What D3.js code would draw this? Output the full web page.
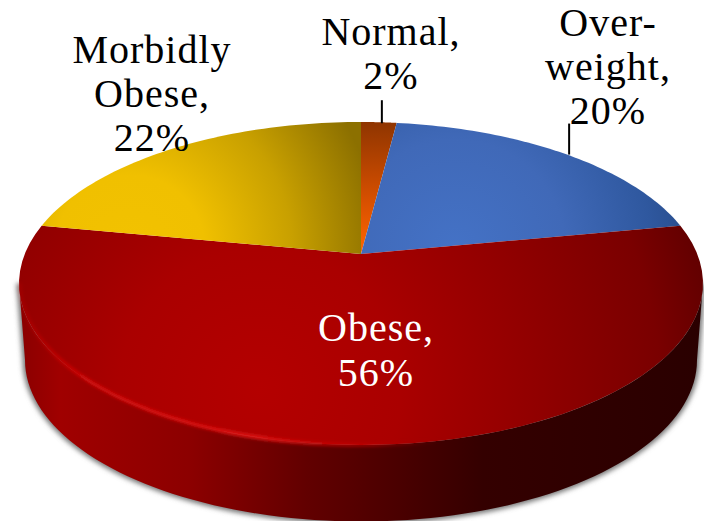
<!DOCTYPE html>
<html>
<head>
<meta charset="utf-8">
<script src="https://cdn.jsdelivr.net/npm/d3@7"></script>
<style>
body { margin: 0; background: #fff; }
text { font-family: "Liberation Serif", serif; font-size: 40px; letter-spacing: 1px; text-anchor: middle; }
</style>
</head>
<body>
<script>
//chart values
const categories = ["Normal", "Overweight", "Obese", "Morbidly Obese"];
const percents = [2, 20, 56, 22];
const labelLines = [["Normal,", "2%"], ["Over-", "weight,", "20%"], ["Obese,", "56%"], ["Morbidly", "Obese,", "22%"]];
const sliceFills = ["url(#orangeFill)", "url(#blueFill)", "url(#redFill)", "url(#yellowFill)"];

//where each label sits (x, first baseline, line step), null leader = no tick
const labelPos = [[391, 45, 44], [608, 36, 44], [376, 341, 45], [152, 63, 44]];
const leaderPos = [[3, 23], [5, 31], null, null];

const width = 704;
const height = 521;

//the tilted disc is a projective map of a unit circle
const hub = [361, 254];
const farY = 122;
const nearY = 445;
const rimRx = 342;
const k = (nearY + farY - 2 * hub[1]) / (nearY - farY);
const yGain = nearY * (1 - k) - hub[1];
const xGain = rimRx * Math.sqrt(1 - k * k);

function project(angle) {
    const u = Math.sin(angle);
    const v = -Math.cos(angle);
    const w = 1 - k * v;
    return [hub[0] + xGain * u / w, (hub[1] + yGain * v) / w];
}

//ellipses used for the side wall
const rimCy = (farY + nearY) / 2;
const rimRy = (nearY - farY) / 2;
const baseCy = 360;
const baseRx = 336;

const line = d3.line();

const svg = d3.select("body").append("svg")
    .attr("width", width)
    .attr("height", height)
    .style("display", "block");

const defs = svg.append("defs");

function addRadial(id, cx, cy, r, stops) {
    const g = defs.append("radialGradient")
        .attr("id", id)
        .attr("gradientUnits", "userSpaceOnUse")
        .attr("cx", cx).attr("cy", cy).attr("r", r);
    stops.forEach(s => g.append("stop").attr("offset", s[0]).attr("stop-color", s[1]));
}

function addLinear(id, x1, y1, x2, y2, stops) {
    const g = defs.append("linearGradient")
        .attr("id", id)
        .attr("gradientUnits", "userSpaceOnUse")
        .attr("x1", x1).attr("y1", y1).attr("x2", x2).attr("y2", y2);
    stops.forEach(s => {
        g.append("stop").attr("offset", s[0]).attr("stop-color", s[1])
            .attr("stop-opacity", s[2] === undefined ? 1 : s[2]);
    });
}

addRadial("redFill", 260, 390, 470, [[0, "#b40000"], [0.3, "#aa0000"], [0.6, "#900000"], [0.85, "#7a0000"], [1, "#5e0000"]]);
addRadial("blueFill", 455, 250, 245, [[0, "#4472c6"], [0.45, "#4069b8"], [0.8, "#2f589f"], [1, "#264a88"]]);
addRadial("yellowFill", 130, 250, 250, [[0, "#f2c200"], [0.3, "#f0c000"], [0.65, "#c8a000"], [1, "#8c7000"]]);
addLinear("orangeFill", 0, 122, 0, 254, [[0, "#8f3500"], [0.6, "#d85000"], [1, "#ff6600"]]);
addLinear("wallFill", 19, 0, 702, 0, [[0, "#8a0000"], [0.06, "#a00000"], [0.25, "#8c0000"], [0.42, "#620000"], [0.68, "#340000"], [1, "#2a0000"]]);
addLinear("rimGlow", 19, 0, 702, 0, [[0, "#c80000", 0.2], [0.1, "#d00808", 1], [0.35, "#dc1414", 1], [0.52, "#c00000", 0.5], [0.62, "#900000", 0]]);

defs.append("filter").attr("id", "soft").attr("x", "-5%").attr("y", "-5%").attr("width", "110%").attr("height", "110%")
    .append("feGaussianBlur").attr("stdDeviation", 2.5);
defs.append("filter").attr("id", "softLine").attr("x", "-5%").attr("y", "-5%").attr("width", "110%").attr("height", "110%")
    .append("feGaussianBlur").attr("stdDeviation", 1.4);

//lower half of an ellipse, left to right
function lowerArc(cy, rx, ry) {
    return d3.range(0, 181, 2).map(d => {
        const t = Math.PI - d * Math.PI / 180;
        return [hub[0] + rx * Math.cos(t), cy + ry * Math.sin(t)];
    });
}

const rimArc = lowerArc(rimCy, rimRx, rimRy);
const baseArc = lowerArc(baseCy, baseRx, rimRy);
const wallShape = rimArc.concat(baseArc.slice().reverse());

//soft grey shadow under the disc
svg.append("path")
    .attr("d", line(wallShape) + "Z")
    .attr("fill", "#777")
    .attr("stroke", "#777")
    .attr("stroke-width", 5)
    .attr("filter", "url(#soft)");

//side wall
svg.append("path")
    .attr("d", line(wallShape) + "Z")
    .attr("fill", "url(#wallFill)");

//top face slices
const pie = d3.pie().sort(null).value(d => d);
const arcs = pie(percents);

svg.append("g").selectAll("path")
    .data(arcs)
    .join("path")
    .attr("class", (d, i) => "slice " + categories[i].replace(/\s/g, ""))
    .attr("d", d => {
        const steps = d3.range(0, 61).map(i => project(d.startAngle + (d.endAngle - d.startAngle) * i / 60));
        return line([hub].concat(steps)) + "Z";
    })
    .attr("fill", (d, i) => sliceFills[i]);

//bevel highlight along the front edge
svg.append("path")
    .attr("d", line(lowerArc(rimCy, rimRx - 1, rimRy)))
    .attr("fill", "none")
    .attr("stroke", "url(#rimGlow)")
    .attr("stroke-width", 4)
    .attr("filter", "url(#softLine)");

//labels
svg.append("g").selectAll("text")
    .data(labelLines)
    .join("text")
    .attr("fill", (d, i) => categories[i] === "Obese" ? "#fff" : "#000")
    .each(function (lines, i) {
        const p = labelPos[i];
        d3.select(this).selectAll("tspan")
            .data(lines)
            .join("tspan")
            .attr("x", p[0])
            .attr("y", (d, j) => p[1] + j * p[2])
            .text(d => d);
    });

//leader ticks from the slice middle up to the label
arcs.forEach((d, i) => {
    const l = leaderPos[i];
    if (!l) return;
    const end = project((d.startAngle + d.endAngle) / 2);
    svg.append("line")
        .attr("x1", end[0] + l[0])
        .attr("x2", end[0] + l[0])
        .attr("y1", end[1] + 1)
        .attr("y2", end[1] + 1 - l[1])
        .attr("stroke", "#000")
        .attr("stroke-width", 2);
});
</script>
</body>
</html>
